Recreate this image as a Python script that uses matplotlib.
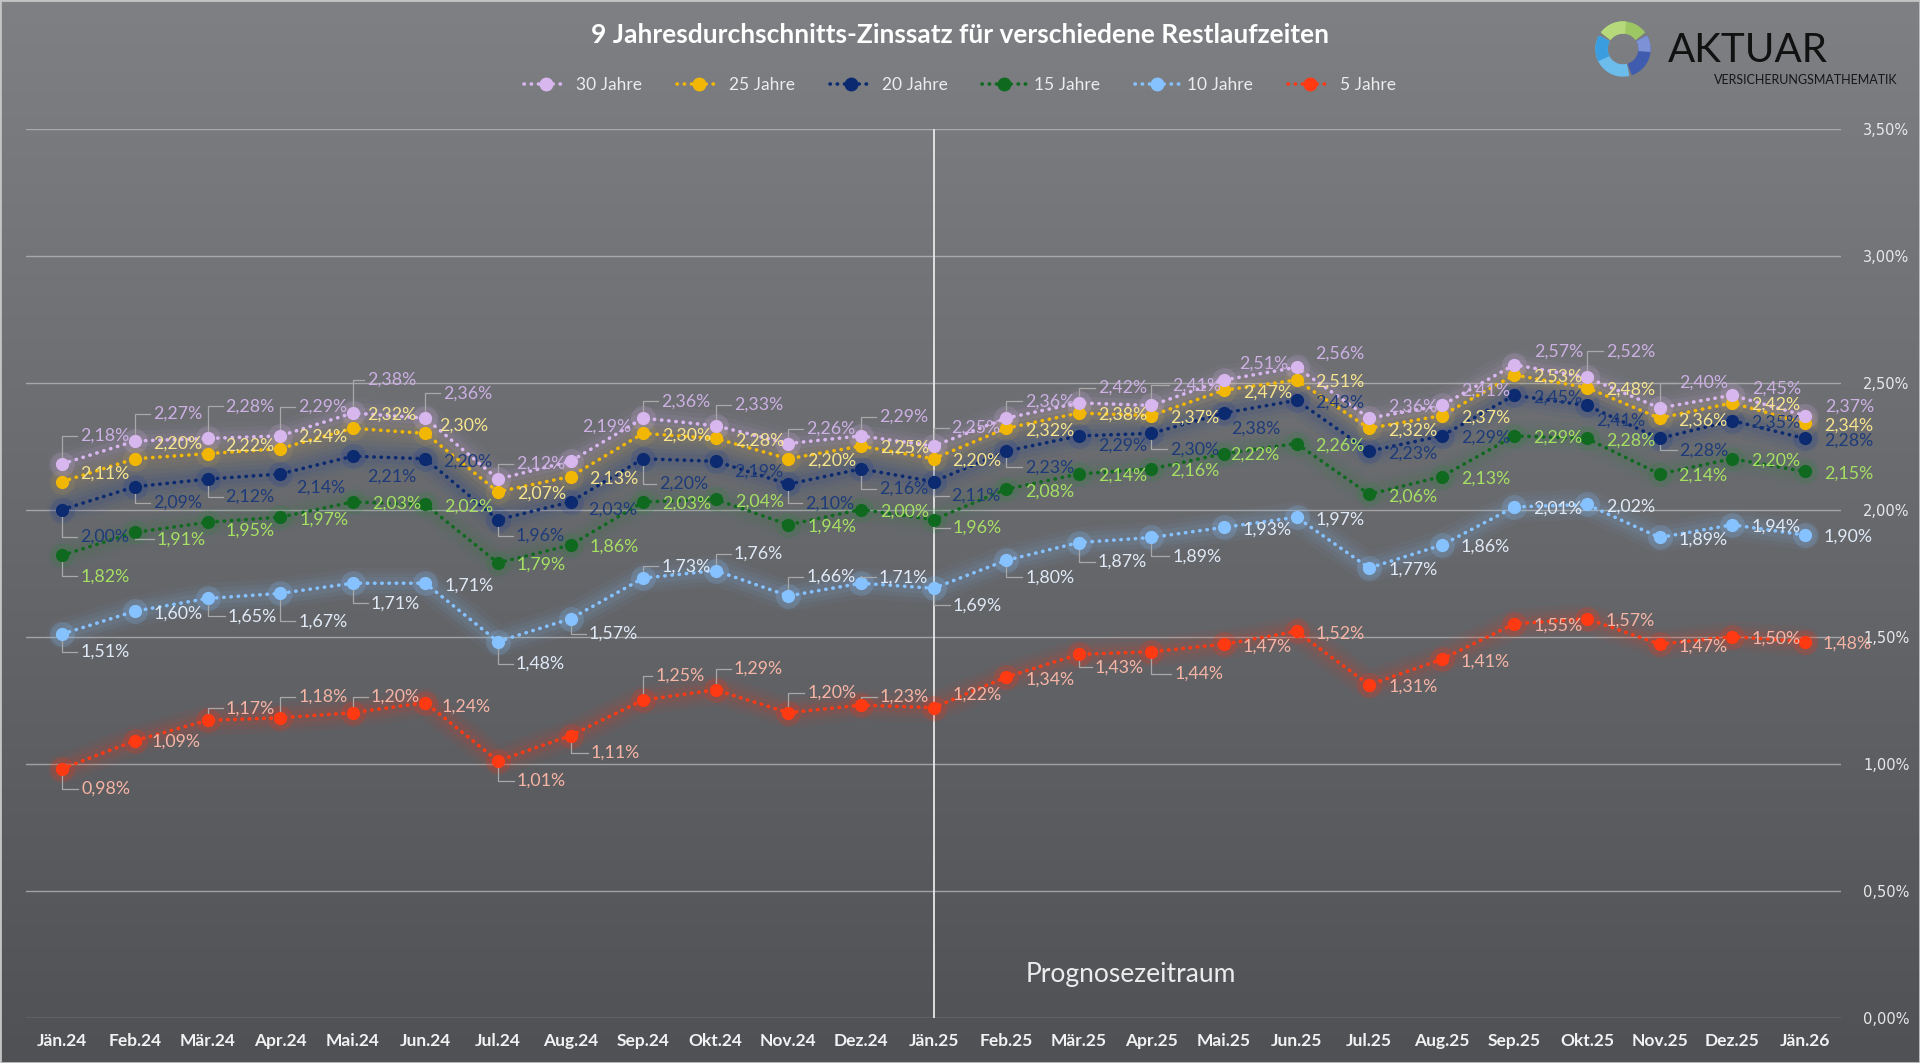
import numpy as np
import matplotlib
matplotlib.use('Agg')
import matplotlib.pyplot as plt
from matplotlib.patches import Wedge, Rectangle
from matplotlib.lines import Line2D
from matplotlib.ticker import FuncFormatter
import matplotlib.transforms as mtransforms

plt.rcParams['font.family'] = ['Lato', 'DejaVu Sans']

# ---------------- data ----------------
months = ['Jän.24', 'Feb.24', 'Mär.24', 'Apr.24', 'Mai.24', 'Jun.24', 'Jul.24', 'Aug.24',
          'Sep.24', 'Okt.24', 'Nov.24', 'Dez.24', 'Jän.25', 'Feb.25', 'Mär.25', 'Apr.25',
          'Mai.25', 'Jun.25', 'Jul.25', 'Aug.25', 'Sep.25', 'Okt.25', 'Nov.25', 'Dez.25', 'Jän.26']

jahre_30 = [2.18, 2.27, 2.28, 2.29, 2.38, 2.36, 2.12, 2.19, 2.36, 2.33, 2.26, 2.29, 2.25,
            2.36, 2.42, 2.41, 2.51, 2.56, 2.36, 2.41, 2.57, 2.52, 2.40, 2.45, 2.37]
jahre_25 = [2.11, 2.20, 2.22, 2.24, 2.32, 2.30, 2.07, 2.13, 2.30, 2.28, 2.20, 2.25, 2.20,
            2.32, 2.38, 2.37, 2.47, 2.51, 2.32, 2.37, 2.53, 2.48, 2.36, 2.42, 2.34]
jahre_20 = [2.00, 2.09, 2.12, 2.14, 2.21, 2.20, 1.96, 2.03, 2.20, 2.19, 2.10, 2.16, 2.11,
            2.23, 2.29, 2.30, 2.38, 2.43, 2.23, 2.29, 2.45, 2.41, 2.28, 2.35, 2.28]
jahre_15 = [1.82, 1.91, 1.95, 1.97, 2.03, 2.02, 1.79, 1.86, 2.03, 2.04, 1.94, 2.00, 1.96,
            2.08, 2.14, 2.16, 2.22, 2.26, 2.06, 2.13, 2.29, 2.28, 2.14, 2.20, 2.15]
jahre_10 = [1.51, 1.60, 1.65, 1.67, 1.71, 1.71, 1.48, 1.57, 1.73, 1.76, 1.66, 1.71, 1.69,
            1.80, 1.87, 1.89, 1.93, 1.97, 1.77, 1.86, 2.01, 2.02, 1.89, 1.94, 1.90]
jahre_5 = [0.98, 1.09, 1.17, 1.18, 1.20, 1.24, 1.01, 1.11, 1.25, 1.29, 1.20, 1.23, 1.22,
           1.34, 1.43, 1.44, 1.47, 1.52, 1.31, 1.41, 1.55, 1.57, 1.47, 1.50, 1.48]

series_names = ['30 Jahre', '25 Jahre', '20 Jahre', '15 Jahre', '10 Jahre', '5 Jahre']
y_ticks = [0.0, 0.5, 1.0, 1.5, 2.0, 2.5, 3.0, 3.5]
title = '9 Jahresdurchschnitts-Zinssatz für verschiedene Restlaufzeiten'
forecast_start = 'Jän.25'

# ---------------- styles / label layout (pixel offsets) ----------------
marker_cols = ['#d8b6ee', '#f2b705', '#0b2a70', '#0f6a20', '#86c2ff', '#ff3a12']
label_cols = ['#cdb0e4', '#f7e48e', '#1d3b7a', '#a6e063', '#e0eaf7', '#f6b4a4']
glow_cols = ['#d8b6ee', '#f2c040', '#1a3a9a', '#1a8a30', '#86c2ff', '#ff3010']
glow_strength = [1.0, 0.6, 1.1, 0.8, 1.2, 1.2]

off30 = {0: (18, -28, 1), 1: (18, -27, 1), 2: (18, -32, 1), 3: (18, -29, 1), 4: (14, -33, 1),
         5: (18, -25, 1), 6: (18, -15, 1), 7: (12, -35, 0), 8: (18, -17, 1), 9: (18, -21, 1),
         10: (18, -15, 1), 11: (18, -19, 1), 12: (18, -18, 1), 13: (19, -17, 1), 14: (19, -15, 1),
         15: (21, -20, 1), 16: (15, -16, 0), 17: (19, -14, 0), 18: (19, -12, 0), 19: (19, -15, 0),
         20: (20, -13, 0), 21: (19, -26, 1), 22: (20, -25, 1), 23: (20, -7, 0), 24: (20, -9, 0)}
off25 = {0: (18, -8, 0), 1: (18, -15, 0), 2: (18, -8, 0), 3: (18, -12, 0), 4: (14, -14, 0),
         5: (14, -8, 0)}
off20 = {0: (18, 27, 1), 1: (18, 16, 1), 2: (18, 18, 1), 3: (16, 14, 0), 4: (14, 20, 0),
         5: (18, 3, 0), 6: (18, 16, 1), 7: (18, 8, 0), 8: (16, 25, 1), 9: (18, 10, 0),
         10: (17, 19, 1), 11: (18, 20, 1), 12: (18, 14, 1), 13: (19, 16, 1), 14: (19, 10, 0),
         15: (19, 16, 1), 16: (7, 16, 0), 21: (9, 15, 0), 22: (20, 12, 1)}
off15 = {0: (18, 21, 1), 1: (22, 7, 1), 2: (18, 8, 0), 12: (19, 8, 1), 16: (6, 1, 0)}
off10 = {0: (18, 18, 1), 2: (20, 18, 1), 3: (18, 28, 1), 4: (18, 20, 1), 6: (18, 22, 1),
         7: (18, 15, 1), 8: (18, -12, 1), 9: (18, -17, 1), 10: (18, -19, 1), 11: (18, -6, 1),
         12: (19, 17, 1), 13: (19, 17, 1), 14: (19, 19, 1), 15: (21, 19, 1)}
off5 = {0: (19, 20, 1), 1: (17, 1, 0), 2: (18, -12, 1), 3: (18, -21, 1), 4: (18, -16, 1),
        5: (16, 4, 0), 6: (19, 20, 1), 7: (20, 17, 1), 8: (12, -24, 1), 9: (18, -21, 1),
        10: (19, -20, 1), 11: (19, -8, 1), 12: (19, -13, 0), 14: (16, 13, 1), 15: (23, 22, 1),
        24: (18, 2, 0)}
offsets = [off30, off25, off20, off15, off10, off5]
values = [jahre_30, jahre_25, jahre_20, jahre_15, jahre_10, jahre_5]

DOT = (0, (0.1, 1.9))


def pct(v):
    return f'{v:.2f}'.replace('.', ',') + '%'


W, H = 1920, 1063
fig = plt.figure(figsize=(W / 100, H / 100), dpi=100)

# background gradient
bg = fig.add_axes([0, 0, 1, 1], zorder=-10)
top_c = np.array([126, 128, 132]) / 255
bot_c = np.array([80, 81, 85]) / 255
g = np.linspace(0, 1, 256)[:, None, None]
bg.imshow(top_c + (bot_c - top_c) * g, aspect='auto', extent=[0, 1, 0, 1])
bg.axis('off')

# main axes
ax_l, ax_r, ax_t, ax_b = 26, 1841, 128.6, 1017.5
ax = fig.add_axes([ax_l / W, 1 - ax_b / H, (ax_r - ax_l) / W, (ax_b - ax_t) / H])
ax.set_facecolor('none')
ax.set_xlim(-0.5, len(months) - 0.5)
ax.set_ylim(0, 3.5)
ax.set_autoscale_on(False)
for s in ax.spines.values():
    s.set_visible(False)

ax.set_yticks(y_ticks)
ax.yaxis.set_major_formatter(FuncFormatter(lambda v, p: pct(v)))
ax.yaxis.tick_right()
ax.tick_params(axis='y', length=0, pad=16, labelsize=10.5, labelcolor='#e8e8e8')
for lbl in ax.get_yticklabels():
    lbl.set_fontfamily('DejaVu Sans')
ax.yaxis.grid(True, color='#b9b9b9', lw=1.0, alpha=0.75)
ax.set_axisbelow(True)

x = np.arange(len(months))
ax.set_xticks(x)
ax.set_xticklabels(months, fontweight='bold', fontsize=12.5, color='#f2f2f2')
ax.tick_params(axis='x', length=0, pad=11)

# forecast separator
ax.axvline(months.index(forecast_start), color='#e8e8e8', lw=1.3, zorder=2)
ax.text(14.72, 0.17, 'Prognosezeitraum', ha='center', va='center', fontsize=19,
        color='#ececec')

# series (draw lower first so upper ones are on top)
for k in reversed(range(len(values))):
    v = np.array(values[k])
    gs = glow_strength[k]
    for w, a in [(22, 0.035), (15, 0.05), (9, 0.07)]:
        ax.plot(x, v, color=glow_cols[k], lw=w, alpha=a * gs, solid_capstyle='round',
                solid_joinstyle='round', zorder=3)
    ax.plot(x, v, 'o', ms=18, color=glow_cols[k], alpha=0.16 * gs, mec='none', zorder=3)
    ax.plot(x, v, color=marker_cols[k], lw=2.6, ls=DOT, dash_capstyle='round',
            marker='o', ms=8.5, mfc=marker_cols[k], mec=marker_cols[k], zorder=4)

# data labels + leader lines
for k in range(len(values)):
    v = values[k]
    for i, val in enumerate(v):
        dx, dy, lead = offsets[k].get(i, (19, 2, 0))
        ax.annotate(pct(val), xy=(i, val), xytext=(dx, -dy), textcoords='offset pixels',
                    ha='left', va='center', fontsize=12.8, color=label_cols[k], zorder=9)
        if lead:
            up = -dy
            sgn = 1 if up > 0 else -1
            px, py = ax.transData.transform((i, val))
            xs = [px, px, px + dx - 3]
            ys = [py + 7 * sgn, py + up, py + up]
            ln = Line2D(xs, ys, transform=mtransforms.IdentityTransform(), color='#a8a8a8',
                        lw=0.9, zorder=8, clip_on=False)
            ax.add_line(ln)

# title
fig.text(0.5, 1 - 35 / H, title, ha='center', va='center', fontsize=19, fontweight='bold',
         color='#ffffff')

# legend
handles = [Line2D([], [], color=marker_cols[k], lw=2.6, ls=DOT, dash_capstyle='round',
                  marker='o', ms=9, mfc=marker_cols[k], mec=marker_cols[k])
           for k in range(len(series_names))]
fig.legend(handles, series_names, loc='center', bbox_to_anchor=(0.5, 1 - 85 / H), ncol=6,
           frameon=False, fontsize=12.5, labelcolor='#ececec', handlelength=2.5,
           handletextpad=0.5, columnspacing=2.0)

# logo
lx0, ly0, lw_, lh_ = 1588, 14, 70, 70
lax = fig.add_axes([lx0 / W, 1 - (ly0 + lh_) / H, lw_ / W, lh_ / H])
lax.set_xlim(0, lw_)
lax.set_ylim(0, lh_)
lax.axis('off')
cx, cy = 1623 - lx0, (ly0 + lh_) - 49
R, RW = 27, 11
lax.add_patch(Wedge((cx, cy), R, 38, 142, width=RW, color='#9cc763'))
lax.add_patch(Wedge((cx, cy), R, 85, 142, width=RW, color='#b6d97c'))
lax.add_patch(Wedge((cx, cy), R, 152, 282, width=RW, color='#6cbcec'))
lax.add_patch(Wedge((cx, cy), R, 152, 205, width=RW, color='#3a9ddf'))
lax.add_patch(Wedge((cx, cy), R, -70, 28, width=RW, color='#3f5cae'))
lax.add_patch(Wedge((cx, cy), R, -5, 28, width=RW, color='#7d92d6'))
fig.text(1668 / W, 1 - 62 / H, 'AKTUAR', ha='left', va='baseline', fontsize=29,
         color='#111111')
fig.text(1898 / W, 1 - 84 / H, 'VERSICHERUNGSMATHEMATIK', ha='right', va='baseline',
         fontsize=9, color='#161616')

# border
fig.patches.append(Rectangle((0, 0), 1, 1, transform=fig.transFigure, fill=False,
                             ec='#c4c4c4', lw=2, zorder=20))

fig.savefig('out.png', dpi=100)
